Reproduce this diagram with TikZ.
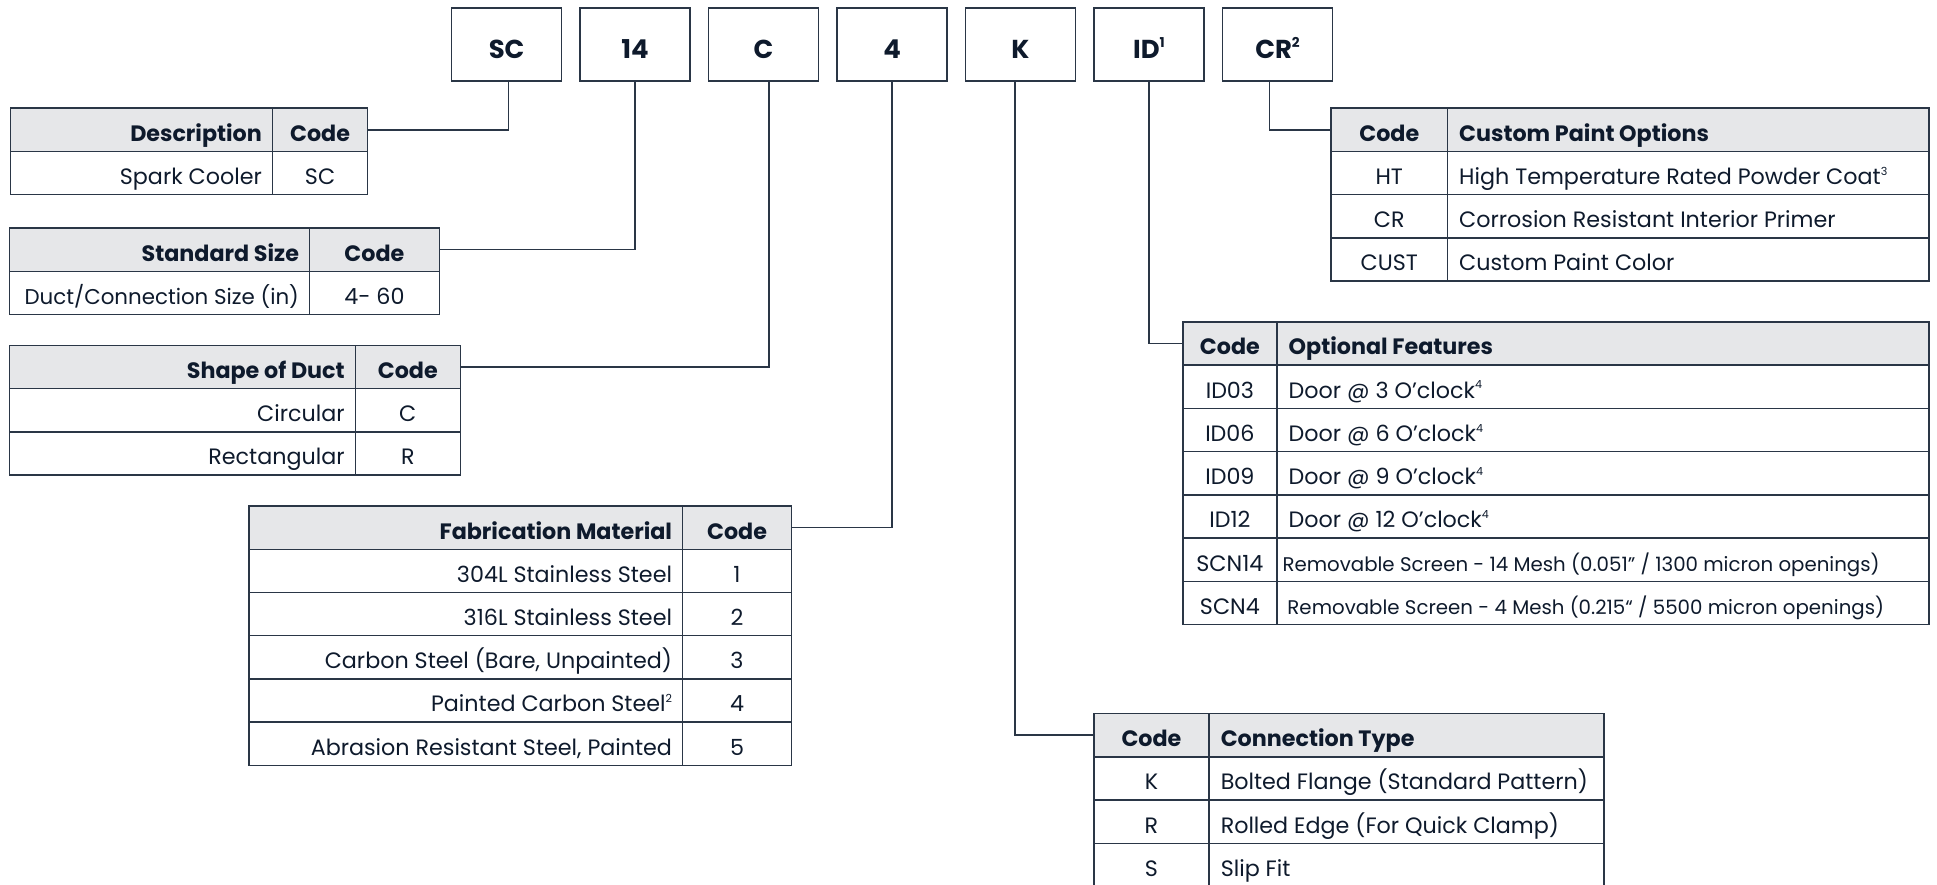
\documentclass[tikz,border=0pt]{standalone}
\usepackage{fontspec}
\setmainfont{Poppins}
\usetikzlibrary{calc}
\definecolor{ln}{HTML}{2A3646}
\definecolor{tx}{HTML}{0E1A2C}
\definecolor{hd}{HTML}{E6E7E9}
\newcommand\tsup[2][9]{\raisebox{0.42em}{\fontsize{#1}{#1}\selectfont #2}}
\newcommand\mkrow[6]{% name, x0, xs, x1, y, style
  \node[#6, minimum width={(#3)-(#2)}] (#1a) at (#2,#5) {};
  \node[#6, minimum width={(#4)-(#3)}] (#1b) at (#3,#5) {};}
\begin{document}
\begin{tikzpicture}[x=1pt,y=-1pt,
  cell/.style={draw=ln, line width=1.2pt, inner sep=0pt, anchor=north west, minimum height=35pt},
  hcell/.style={cell, fill=hd},
  bt/.style={font=\fontsize{18}{21}\selectfont, text=tx, inner sep=0pt, text height=20.5pt, text depth=2pt},
  hb/.style={bt, font=\fontsize{18}{21}\selectfont\bfseries},
  st/.style={bt, font=\fontsize{16}{19}\selectfont},
  codebox/.style={draw=ln, line width=1.2pt, minimum width=89pt, minimum height=59pt, anchor=north west, inner sep=0pt,
    font=\fontsize{21}{24}\selectfont\bfseries, text=tx, text height=23pt, text depth=0pt},
  conn/.style={draw=ln, line width=1.2pt}
]
\useasboundingbox (0,0) rectangle (1568,716);

% code boxes
\node[codebox] (bSC) at (365,6) {SC};
\node[codebox] (b14) at (469,6) {14};
\node[codebox] (bC)  at (573,6) {C};
\node[codebox] (b4)  at (677,6) {4};
\node[codebox] (bK)  at (781,6) {K};
\node[codebox] (bID) at (885,6) {ID\tsup[11]{1}};
\node[codebox] (bCR) at (989,6) {CR\tsup[11]{2}};

% Table 1: Description
\mkrow{t1h}{8}{220}{297}{87}{hcell}
\mkrow{t1r}{8}{220}{297}{122}{cell}
\node[hb, anchor=east] at ([xshift=-9pt]t1ha.east) {Description};
\node[hb] at (t1hb) {Code};
\node[bt, anchor=east] at ([xshift=-9pt]t1ra.east) {Spark Cooler};
\node[bt] at (t1rb) {SC};

% Table 2: Standard Size
\mkrow{t2h}{7}{250}{355}{184}{hcell}
\mkrow{t2r}{7}{250}{355}{219}{cell}
\node[hb, anchor=east] at ([xshift=-9pt]t2ha.east) {Standard Size};
\node[hb] at (t2hb) {Code};
\node[bt, anchor=east, font=\fontsize{17.3}{20}\selectfont] at ([xshift=-9pt]t2ra.east) {Duct/Connection Size (in)};
\node[bt] at (t2rb) {4- 60};

% Table 3: Shape of Duct
\mkrow{t3h}{7}{287}{372}{279}{hcell}
\mkrow{t3r}{7}{287}{372}{314}{cell}
\mkrow{t3s}{7}{287}{372}{349}{cell}
\node[hb, anchor=east] at ([xshift=-9pt]t3ha.east) {Shape of Duct};
\node[hb] at (t3hb) {Code};
\node[bt, anchor=east] at ([xshift=-9pt]t3ra.east) {Circular};
\node[bt] at (t3rb) {C};
\node[bt, anchor=east] at ([xshift=-9pt]t3sa.east) {Rectangular};
\node[bt] at (t3sb) {R};

% Table 4: Fabrication Material
\mkrow{t4h}{201}{552}{640}{409}{hcell}
\mkrow{t4r1}{201}{552}{640}{444}{cell}
\mkrow{t4r2}{201}{552}{640}{479}{cell}
\mkrow{t4r3}{201}{552}{640}{514}{cell}
\mkrow{t4r4}{201}{552}{640}{549}{cell}
\mkrow{t4r5}{201}{552}{640}{584}{cell}
\node[hb, anchor=east] at ([xshift=-9pt]t4ha.east) {Fabrication Material};
\node[hb] at (t4hb) {Code};
\node[bt, anchor=east] at ([xshift=-9pt]t4r1a.east) {304L Stainless Steel};
\node[bt] at (t4r1b) {1};
\node[bt, anchor=east] at ([xshift=-9pt]t4r2a.east) {316L Stainless Steel};
\node[bt] at (t4r2b) {2};
\node[bt, anchor=east] at ([xshift=-9pt]t4r3a.east) {Carbon Steel (Bare, Unpainted)};
\node[bt] at (t4r3b) {3};
\node[bt, anchor=east] at ([xshift=-9pt]t4r4a.east) {Painted Carbon Steel\tsup{2}};
\node[bt] at (t4r4b) {4};
\node[bt, anchor=east] at ([xshift=-9pt]t4r5a.east) {Abrasion Resistant Steel, Painted};
\node[bt] at (t4r5b) {5};

% Table 5: Connection Type
\mkrow{t5h}{885}{978}{1298}{577}{hcell}
\mkrow{t5r1}{885}{978}{1298}{612}{cell}
\mkrow{t5r2}{885}{978}{1298}{647}{cell}
\mkrow{t5r3}{885}{978}{1298}{682}{cell, minimum height=37pt}
\node[hb] at (t5ha) {Code};
\node[hb, anchor=west] at ([xshift=10pt]t5hb.west) {Connection Type};
\node[bt] at (t5r1a) {K};
\node[bt, anchor=west] at ([xshift=10pt]t5r1b.west) {Bolted Flange (Standard Pattern)};
\node[bt] at (t5r2a) {R};
\node[bt, anchor=west] at ([xshift=10pt]t5r2b.west) {Rolled Edge (For Quick Clamp)};
\node[bt] at ([yshift=1pt]t5r3a) {S};
\node[bt, anchor=west] at ([xshift=10pt,yshift=1pt]t5r3b.west) {Slip Fit};

% Table 6: Optional Features
\mkrow{t6h}{957}{1033}{1561}{260}{hcell}
\mkrow{t6r1}{957}{1033}{1561}{295}{cell}
\mkrow{t6r2}{957}{1033}{1561}{330}{cell}
\mkrow{t6r3}{957}{1033}{1561}{365}{cell}
\mkrow{t6r4}{957}{1033}{1561}{400}{cell}
\mkrow{t6r5}{957}{1033}{1561}{435}{cell}
\mkrow{t6r6}{957}{1033}{1561}{470}{cell}
\node[hb] at (t6ha) {Code};
\node[hb, anchor=west] at ([xshift=10pt]t6hb.west) {Optional Features};
\node[bt] at (t6r1a) {ID03};
\node[bt, anchor=west] at ([xshift=10pt]t6r1b.west) {Door @ 3 O’clock\tsup{4}};
\node[bt] at (t6r2a) {ID06};
\node[bt, anchor=west] at ([xshift=10pt]t6r2b.west) {Door @ 6 O’clock\tsup{4}};
\node[bt] at (t6r3a) {ID09};
\node[bt, anchor=west] at ([xshift=10pt]t6r3b.west) {Door @ 9 O’clock\tsup{4}};
\node[bt] at (t6r4a) {ID12};
\node[bt, anchor=west] at ([xshift=10pt]t6r4b.west) {Door @ 12 O’clock\tsup{4}};
\node[bt] at (t6r5a) {SCN14};
\node[st, anchor=west] at ([xshift=5pt]t6r5b.west) {Removable Screen - 14 Mesh (0.051” / 1300 micron openings)};
\node[bt] at (t6r6a) {SCN4};
\node[st, anchor=west] at ([xshift=9pt]t6r6b.west) {Removable Screen - 4 Mesh (0.215“ / 5500 micron openings)};

% Table 7: Custom Paint Options
\mkrow{t7h}{1077}{1171}{1561}{87}{hcell}
\mkrow{t7r1}{1077}{1171}{1561}{122}{cell}
\mkrow{t7r2}{1077}{1171}{1561}{157}{cell}
\mkrow{t7r3}{1077}{1171}{1561}{192}{cell}
\node[hb] at (t7ha) {Code};
\node[hb, anchor=west] at ([xshift=10pt]t7hb.west) {Custom Paint Options};
\node[bt] at (t7r1a) {HT};
\node[bt, anchor=west] at ([xshift=10pt]t7r1b.west) {High Temperature Rated Powder Coat\tsup{3}};
\node[bt] at (t7r2a) {CR};
\node[bt, anchor=west] at ([xshift=10pt]t7r2b.west) {Corrosion Resistant Interior Primer};
\node[bt] at (t7r3a) {CUST};
\node[bt, anchor=west] at ([xshift=10pt]t7r3b.west) {Custom Paint Color};

% connectors
\draw[conn] (t1hb.east) -| ([xshift=1.5pt]bSC.south);
\draw[conn] (t2hb.east) -| (b14.south);
\draw[conn] (t3hb.east) -| ([xshift=4.5pt]bC.south);
\draw[conn] (t4hb.east) -| (b4.south);
\draw[conn] ([xshift=-4.5pt]bK.south) |- (t5ha.west);
\draw[conn] (bID.south) |- (t6ha.west);
\draw[conn] ([xshift=-6.5pt]bCR.south) |- (t7ha.west);
\end{tikzpicture}
\end{document}
